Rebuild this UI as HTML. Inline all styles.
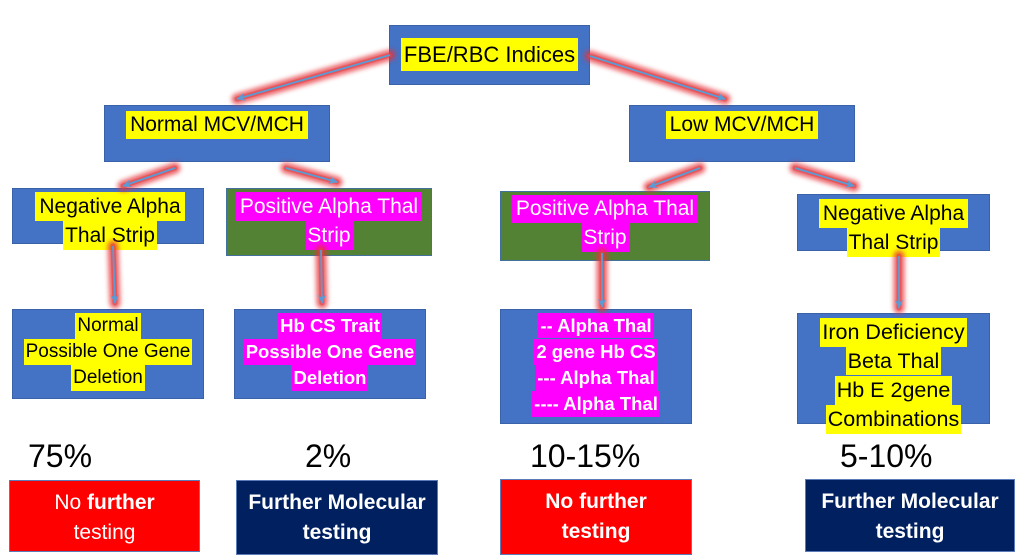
<!DOCTYPE html>
<html><head><meta charset="utf-8">
<style>
html,body{margin:0;padding:0;background:#fff;}
body{width:1024px;height:559px;position:relative;overflow:hidden;font-family:"Liberation Sans",Arial,sans-serif;}
.box{position:absolute;box-sizing:border-box;border:1px solid #3a62a8;background:#4472c4;}
.green{background:#548235;border-color:#41719c;}
.red{background:#ff0000;border-color:#5b7bb8;}
.navy{background:#002060;border-color:#5b7bb8;}
.txt{position:absolute;text-align:center;}
.txt div{white-space:nowrap;}
.y{background:#ffff00;color:#000;display:inline-block;padding:0 2px;}
.m{background:#ff00ff;color:#fff;display:inline-block;padding:0 2px;}
.pct{position:absolute;font-size:32px;line-height:32px;color:#000;white-space:nowrap;}
.btxt{position:absolute;display:flex;flex-direction:column;justify-content:center;align-items:center;color:#fff;font-size:21px;line-height:30px;text-align:center;white-space:nowrap;}
svg{position:absolute;left:0;top:0;}
</style></head><body>

<!-- Top -->
<div class="box" style="left:389px;top:25px;width:201px;height:60px;"></div>
<div class="txt" style="left:389px;top:38px;width:201px;font-size:22px;">
 <div><span class="y" style="line-height:33px;padding:0 3px;">FBE/RBC Indices</span></div></div>

<!-- Level 2 -->
<div class="box" style="left:104px;top:105px;width:226px;height:57px;"></div>
<div class="txt" style="left:104px;top:111px;width:226px;font-size:21px;">
 <div><span class="y" style="line-height:28px;padding:0 4px;">Normal MCV/MCH</span></div></div>

<div class="box" style="left:629px;top:105px;width:226px;height:57px;"></div>
<div class="txt" style="left:629px;top:111px;width:226px;font-size:21px;">
 <div><span class="y" style="line-height:28px;padding:0 4px;">Low MCV/MCH</span></div></div>

<!-- Level 3 -->
<div class="box" style="left:12px;top:188px;width:192px;height:56px;"></div>
<div class="txt" style="left:14px;top:192px;width:192px;font-size:21px;line-height:29px;">
 <div><span class="y" style="line-height:29px;padding:0 4px;">Negative Alpha </span></div>
 <div><span class="y" style="line-height:29px;">Thal Strip</span></div></div>

<div class="box green" style="left:226px;top:188px;width:206px;height:68px;"></div>
<div class="txt" style="left:226px;top:192px;width:206px;font-size:21px;line-height:29px;">
 <div><span class="m" style="line-height:29px;padding:0 4px;">Positive Alpha Thal </span></div>
 <div><span class="m" style="line-height:29px;">Strip</span></div></div>

<div class="box green" style="left:500px;top:191px;width:210px;height:70px;"></div>
<div class="txt" style="left:500px;top:195px;width:210px;font-size:21px;line-height:28px;">
 <div><span class="m" style="line-height:28px;padding:0 4px;">Positive Alpha Thal </span></div>
 <div><span class="m" style="line-height:29px;">Strip</span></div></div>

<div class="box" style="left:797px;top:194px;width:193px;height:57px;"></div>
<div class="txt" style="left:797px;top:199px;width:193px;font-size:21px;line-height:29px;">
 <div><span class="y" style="line-height:29px;padding:0 4px;">Negative Alpha </span></div>
 <div><span class="y" style="line-height:29px;">Thal Strip</span></div></div>

<!-- Level 4 -->
<div class="box" style="left:12px;top:309px;width:192px;height:90px;"></div>
<div class="txt" style="left:12px;top:313px;width:192px;font-size:19px;line-height:26px;">
 <div><span class="y" style="line-height:26px;">Normal</span></div>
 <div><span class="y" style="line-height:26px;">Possible One Gene</span></div>
 <div><span class="y" style="line-height:26px;">Deletion</span></div></div>

<div class="box" style="left:234px;top:309px;width:192px;height:90px;"></div>
<div class="txt" style="left:234px;top:313px;width:192px;font-size:18.5px;line-height:26px;font-weight:bold;">
 <div><span class="m" style="line-height:26px;">Hb CS Trait</span></div>
 <div><span class="m" style="line-height:26px;">Possible One Gene</span></div>
 <div><span class="m" style="line-height:26px;">Deletion</span></div></div>

<div class="box" style="left:500px;top:309px;width:192px;height:115px;"></div>
<div class="txt" style="left:500px;top:313px;width:192px;font-size:18.5px;line-height:26px;font-weight:bold;">
 <div><span class="m" style="line-height:25px;">-- Alpha Thal</span></div>
 <div><span class="m" style="line-height:26px;">2 gene Hb CS</span></div>
 <div><span class="m" style="line-height:26px;">--- Alpha Thal</span></div>
 <div><span class="m" style="line-height:26px;">---- Alpha Thal</span></div></div>

<div class="box" style="left:797px;top:313px;width:193px;height:111px;"></div>
<div class="txt" style="left:797px;top:318px;width:193px;font-size:21.5px;line-height:29px;">
 <div><span class="y" style="line-height:29px;">Iron Deficiency</span></div>
 <div><span class="y" style="line-height:28px;">Beta Thal</span></div>
 <div><span class="y" style="line-height:29px;">Hb E 2gene</span></div>
 <div><span class="y" style="line-height:29px;">Combinations</span></div></div>

<!-- Percent -->
<div class="pct" style="left:28px;top:440px;">75%</div>
<div class="pct" style="left:305px;top:440px;">2%</div>
<div class="pct" style="left:530px;top:440px;">10-15%</div>
<div class="pct" style="left:840px;top:440px;">5-10%</div>

<!-- Bottom -->
<div class="box red" style="left:9px;top:480px;width:191px;height:72px;"></div>
<div class="btxt" style="left:9px;top:482px;width:191px;height:72px;">
 <div>No <b>further</b></div><div>testing</div></div>

<div class="box navy" style="left:236px;top:480px;width:202px;height:75px;"></div>
<div class="btxt" style="left:236px;top:480px;width:202px;height:75px;font-weight:bold;">
 <div>Further Molecular</div><div>testing</div></div>

<div class="box red" style="left:500px;top:479px;width:192px;height:76px;"></div>
<div class="btxt" style="left:500px;top:479px;width:192px;height:76px;font-weight:bold;">
 <div>No further</div><div>testing</div></div>

<div class="box navy" style="left:805px;top:479px;width:210px;height:73px;"></div>
<div class="btxt" style="left:805px;top:480px;width:210px;height:73px;font-weight:bold;">
 <div>Further Molecular</div><div>testing</div></div>

<svg width="1024" height="559" viewBox="0 0 1024 559">
 <defs>
  <filter id="glow" x="-30%" y="-30%" width="160%" height="160%">
   <feGaussianBlur stdDeviation="2.4"/>
  </filter>
  <marker id="ah" markerWidth="10" markerHeight="10" refX="8" refY="5" orient="auto" markerUnits="userSpaceOnUse">
   <path d="M0,1 L9,5 L0,9 L2.5,5 Z" fill="#5b9bd5"/>
  </marker>
 </defs>
 <g stroke="#e53338" stroke-width="11" stroke-linecap="round" opacity="0.75" filter="url(#glow)" fill="none">
  <line x1="390" y1="55" x2="237" y2="99"/>
  <line x1="590" y1="56" x2="725" y2="99"/>
  <line x1="175" y1="168" x2="123" y2="186"/>
  <line x1="286" y1="168" x2="337" y2="182"/>
  <line x1="700" y1="168" x2="649" y2="187"/>
  <line x1="795" y1="168" x2="854" y2="186"/>
  <line x1="113" y1="246" x2="115" y2="303"/>
  <line x1="321" y1="250" x2="322" y2="303"/>
  <line x1="602" y1="253" x2="602" y2="307"/>
  <line x1="899" y1="256" x2="899" y2="308"/>
 </g>
 <g stroke="#e0464a" stroke-width="5" stroke-linecap="round" opacity="0.55" fill="none">
  <line x1="390" y1="55" x2="237" y2="99"/>
  <line x1="590" y1="56" x2="725" y2="99"/>
  <line x1="175" y1="168" x2="123" y2="186"/>
  <line x1="286" y1="168" x2="337" y2="182"/>
  <line x1="700" y1="168" x2="649" y2="187"/>
  <line x1="795" y1="168" x2="854" y2="186"/>
  <line x1="113" y1="246" x2="115" y2="303"/>
  <line x1="321" y1="250" x2="322" y2="303"/>
  <line x1="602" y1="253" x2="602" y2="307"/>
  <line x1="899" y1="256" x2="899" y2="308"/>
 </g>
 <g stroke="#5b9bd5" stroke-width="1.8" fill="none">
  <line x1="390" y1="55" x2="237" y2="99" marker-end="url(#ah)"/>
  <line x1="590" y1="56" x2="725" y2="99" marker-end="url(#ah)"/>
  <line x1="175" y1="168" x2="123" y2="186" marker-end="url(#ah)"/>
  <line x1="286" y1="168" x2="337" y2="182" marker-end="url(#ah)"/>
  <line x1="700" y1="168" x2="649" y2="187" marker-end="url(#ah)"/>
  <line x1="795" y1="168" x2="854" y2="186" marker-end="url(#ah)"/>
  <line x1="113" y1="246" x2="115" y2="303" marker-end="url(#ah)"/>
  <line x1="321" y1="250" x2="322" y2="303" marker-end="url(#ah)"/>
  <line x1="602" y1="253" x2="602" y2="307" marker-end="url(#ah)"/>
  <line x1="899" y1="256" x2="899" y2="308" marker-end="url(#ah)"/>
 </g>
</svg>
</body></html>
